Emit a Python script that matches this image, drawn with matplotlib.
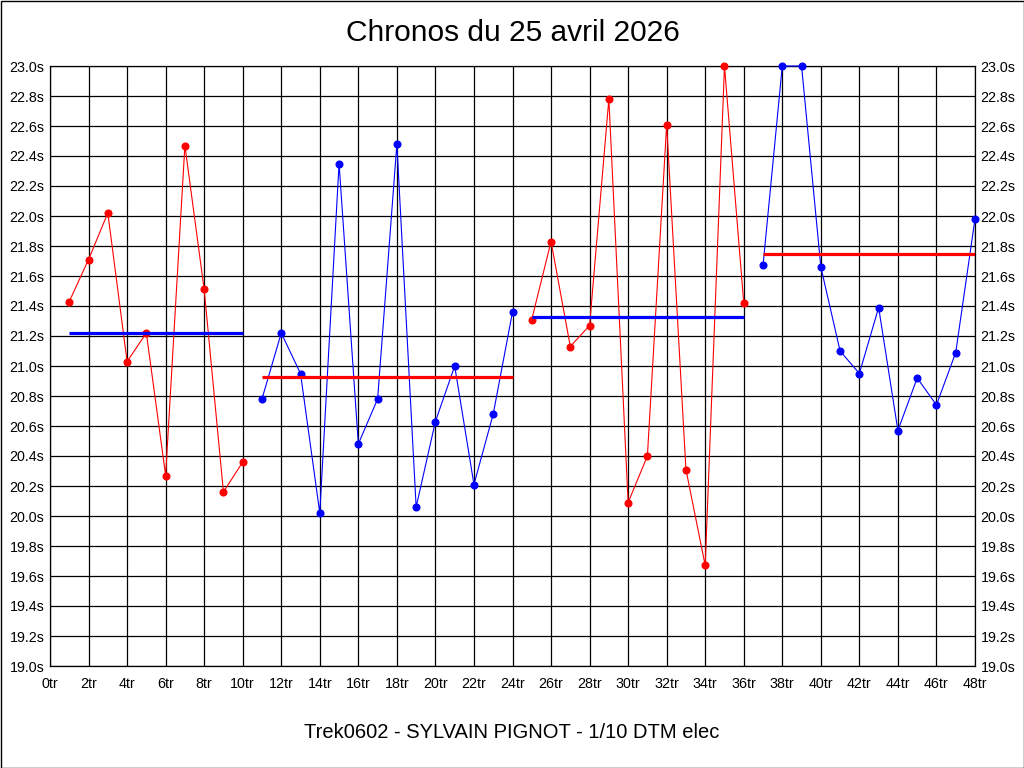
import numpy as np
import matplotlib
matplotlib.use("Agg")
import matplotlib.pyplot as plt
from matplotlib.patches import Rectangle
from matplotlib.ticker import FuncFormatter, MultipleLocator

plt.rcParams["font.family"] = ["Liberation Sans", "DejaVu Sans"]

TITLE = "Chronos du 25 avril 2026"
FOOTER = "Trek0602 - SYLVAIN PIGNOT - 1/10 DTM elec"

# lap times per stint (seconds), values shown clipped at the top of the scale
laps_1 = list(range(1, 11))
times_1 = [21.43, 21.71, 22.02, 21.03, 21.22, 20.27, 22.47, 21.51, 20.16, 20.36]

laps_2 = list(range(11, 25))
times_2 = [20.78, 21.22, 20.95, 20.02, 22.35, 20.48, 20.78, 22.48, 20.06, 20.63,
           21.00, 20.21, 20.68, 21.36]

laps_3 = list(range(25, 37))
times_3 = [21.31, 21.83, 21.13, 21.27, 22.78, 20.09, 20.40, 22.61, 20.31, 19.67,
           23.00, 21.42]

laps_4 = list(range(37, 49))
times_4 = [21.67, 23.00, 23.00, 21.66, 21.10, 20.95, 21.39, 20.57, 20.92, 20.74,
           21.09, 21.98]

# stint averages as drawn
stint_avg = [21.22, 20.93, 21.33, 21.75]

Y_MIN, Y_MAX = 19.0, 23.0
X_MIN, X_MAX = 0, 48

W, H = 1024, 768
fig = plt.figure(figsize=(W / 100, H / 100), dpi=100)
fig.patch.set_facecolor("white")
ax = fig.add_axes([50 / W, (H - 666) / H, 925 / W, 600 / H])

series = [(laps_1, times_1), (laps_2, times_2), (laps_3, times_3), (laps_4, times_4)]
line_colors = ["#ff0000", "#0000ff", "#ff0000", "#0000ff"]
avg_colors = ["#0000ff", "#ff0000", "#0000ff", "#ff0000"]

for (laps, times), c, ac, avg in zip(series, line_colors, avg_colors, stint_avg):
    t = np.clip(np.asarray(times, dtype=float), Y_MIN, Y_MAX)
    ax.plot(laps, t, color=c, lw=0.8, marker="o", ms=4.8, mec=c, mfc=c,
            zorder=3, clip_on=False)
    ax.plot([laps[0], laps[-1]], [avg, avg], color=ac, lw=2.3,
            solid_capstyle="butt", zorder=4)

ax.set_xlim(X_MIN, X_MAX)
ax.set_ylim(Y_MIN, Y_MAX)
ax.xaxis.set_major_locator(MultipleLocator(2))
ax.yaxis.set_major_locator(MultipleLocator(0.2))
ax.xaxis.set_major_formatter(FuncFormatter(lambda v, p: f"{int(round(v))}tr"))
ax.yaxis.set_major_formatter(FuncFormatter(lambda v, p: f"{v:.1f}s"))
ax.tick_params(axis="both", length=0, labelsize=10.3, colors="black")
ax.tick_params(axis="y", pad=4, labelright=True)
ax.tick_params(axis="x", pad=8)
ax.grid(True, color="black", lw=0.9)
ax.set_axisbelow(True)
for s in ax.spines.values():
    s.set_color("black")
    s.set_linewidth(0.9)

fig.text(513 / W, 1 - 33 / H, TITLE, ha="center", va="center", fontsize=21.5)
fig.text(512 / W, 1 - 733 / H, FOOTER, ha="center", va="center", fontsize=14.5)

fig.patches.append(Rectangle((0.5 / W, 0.5 / H), (W - 1) / W, (H - 1) / H,
                             transform=fig.transFigure, fill=False,
                             edgecolor="black", lw=1.0))

fig.savefig("out.png", dpi=100)
